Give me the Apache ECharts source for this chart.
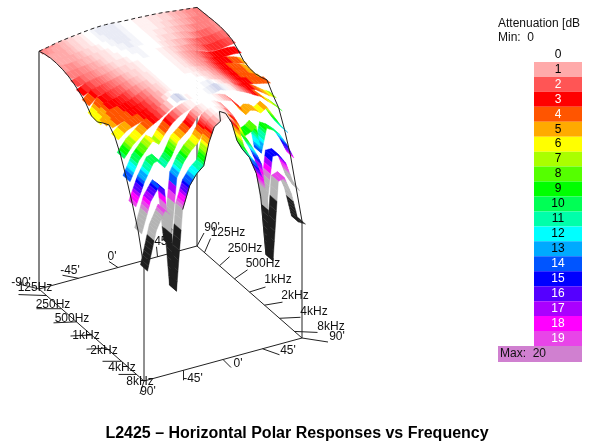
<!DOCTYPE html>
<html><head><meta charset="utf-8">
<style>html,body{margin:0;padding:0;background:#fff}#c{width:596px;height:444px}</style>
<script src="https://cdn.jsdelivr.net/npm/echarts@6/dist/echarts.min.js"></script>
</head><body><div id="c"></div>
<script>
// ---- DATA ----
const angles = [-90,-80,-70,-64,-57,-50,-42,-34,-26,-20,-14,-7,0,7,14,20,26,34,42,47,53,59,66,74,82,90];
const row00 = [1.8,1.4,.9,.7,.5,.3,.1,-.1,-.25,-.3,-.3,-.25,-.1,0,.1,.1,.2,.3,.4,.5,.6,.8,1,1.2,1.4,1.6];
const row01 = [1.3,1.1,.9,.7,.5,.3,.1,-.1,-.3,-.3,-.3,-.25,-.1,0,.1,.1,.2,.3,.4,.5,.6,.8,1,1.3,1.4,1.5];
const row02 = [1,1,.9,.7,.5,.3,.1,-.1,-.25,-.3,-.3,-.25,-.1,0,.1,.1,.2,.3,.5,.6,.7,.9,1.1,1.4,1.5,1.4];
const row03 = [1,1.1,1,.8,.6,.4,.2,0,-.2,-.25,-.3,-.25,-.1,0,.1,.2,.3,.4,.6,.7,.9,1.1,1.4,1.6,1.5,1.3];
const row04 = [1.2,1.3,1.1,.9,.7,.5,.3,.1,-.1,-.2,-.25,-.2,-.1,0,.1,.2,.4,.5,.7,.9,1.1,1.5,1.8,1.9,1.6,1.3];
const row05 = [1.6,1.5,1.3,1.1,.9,.6,.3,.2,0,-.1,-.2,-.1,0,0,.1,.3,.5,.7,.9,1.2,1.5,1.9,2.1,2.2,1.9,1.5];
const row06 = [2.3,1.8,1.5,1.3,1,.8,.4,.3,.1,0,-.1,-.1,0,.1,.2,.4,.6,1,1.2,1.4,1.7,2.2,2.5,2.5,2.2,2];
const row07 = [3.3,2.2,1.8,1.6,1.3,1,.6,.4,.2,.1,0,0,0,.1,.2,.4,.7,1,1.4,1.8,2.2,2.7,3,3,3,3.2];
const row08 = [4.5,2.6,2.2,1.9,1.6,1.2,.8,.5,.2,.1,0,0,0,.1,.2,.4,.7,1,1.4,1.8,2.4,2.9,3.2,3.5,4,4.7];
const row09 = [6.5,3.2,2.6,2.3,1.9,1.4,.9,.6,.3,.1,0,0,0,.1,.2,.4,.7,1,1.5,1.9,2.5,3,3.4,3.8,4.4,5.3];
const row10 = [6.7,3.6,3.1,2.8,2.3,1.7,1.1,.7,.3,.1,0,0,0,.1,.2,.3,.6,.9,1.4,1.9,2.5,3,3.4,3.9,4.5,5.4];
const row11 = [5.7,3.9,3.5,3.2,2.8,2.2,1.4,.8,.3,.1,0,0,0,0,.1,.2,.5,.8,1.3,1.8,2.4,3,3.4,3.8,4.3,5];
const row12 = [4.9,4.2,3.7,3.4,3,2.5,1.6,.9,.3,.1,0,0,0,0,0,.1,.4,.7,1.2,1.7,2.3,2.9,3.2,3.6,4,4.4];
const row13 = [6.6,4.8,4,3.6,3.2,2.6,1.7,.8,-.1,0,.1,0,0,0,-.2,-.3,0,.5,1,1.8,2.6,3,3.3,4.5,5.8,6.8];
const row14 = [10,7.2,5.4,4.3,3.4,2.6,1.5,.3,-.8,-.5,.2,0,0,0,-.4,-.7,-.2,.2,1,1.5,2.2,3,3.8,5.5,7,8.8];
const row15 = [14.5,9.9,7.3,5.9,7.1,4.8,2.8,1.5,.7,.3,.05,0,0,0,.3,.7,1.2,3,5.6,4.8,5.2,6.2,5.2,8,10.8,13];
const row16 = [19.5,13.8,9.8,9.4,11.7,9.6,6,4.6,3,1.2,.4,.1,0,.3,1.2,3.2,6,9.2,8.5,7.6,14.6,8.7,9.6,11.2,14.2,18];
const row17 = [25,17.6,14.2,15.5,30,13.4,9.9,7.6,6,3.9,1.2,.3,0,.5,1.6,4,7,10,13.3,16,26,14.5,14.5,17,22,25];
const row18 = [33,23.5,19,20.5,40,20,14.5,12,10.5,5,1.5,.5,0,.9,3.7,8.5,11,13.5,18,24,39,19.5,19,23.5,31,32];
const rows = [row00,row01,row02,row03,row04,row05,row06,row07,row08,row09,row10,row11,row12,row13,row14,row15,row16,row17,row18];
const freqLabels = ['125Hz','250Hz','500Hz','1kHz','2kHz','4kHz','8kHz'];
const angleLabels = ["-90'","-45'","0'","45'","90'"];
const legendValues = ['0','1','2','3','4','5','6','7','8','9','10','11','12','13','14','15','16','17','18','19'];
const legendColors = ['#FFFFFF','#FFAAAA','#FF5555','#FF0000','#FF5500','#FFAA00','#FFFF00','#AAFF00','#55FF00','#00FF00','#00FF55','#00FFAA','#00FFFF','#00AAFF','#0055FF','#0000FF','#5500FF','#AA00FF','#FF00FF','#E845E8'];
const legendWhite = ['2','3','4','14','15','16','17','18','19'];

// ---- VIEW (axonometric box of the plot) ----
const O=[39,44], A=[158,-43], F=[105,92], DZ=4, FLOOR=61.25, D=0.034;
const proj=(a,f,z)=>[O[0]+A[0]*a+F[0]*f, O[1]+A[1]*a+F[1]*f+DZ*z];
const FONT='12px "Liberation Sans", Arial, sans-serif';
const aOf=i=>(angles[i]+90)/180, fOf=j=>j/(rows.length-1);

function hex(c){return [parseInt(c.slice(1,3),16),parseInt(c.slice(3,5),16),parseInt(c.slice(5,7),16)];}
function mix(c1,c2,t){const p=hex(c1),q=hex(c2);return 'rgb('+p.map((v,i)=>Math.round(v+(q[i]-v)*t)).join(',')+')';}
function color(z){
  if(z<0) return mix('#FFFFFF','#BCC2E2',Math.min(1,Math.round(-z*6.6)/6));
  if(z<3){const q=Math.round(z*6)/6, k=Math.floor(q); return mix(legendColors[k],legendColors[k+1],q-k);}
  if(z<19.5) return legendColors[Math.round(z)];
  if(z<20.3) return '#D080D0';
  if(z<25.5) return '#B4B4B4';
  return '#1E1E1E';
}

// ---- FRAME: floor edges, poles, ticks ----
const frameLines=[
 [0,0,FLOOR,1,0,FLOOR],[1,0,FLOOR,1,1,FLOOR],[0,1,FLOOR,1,1,FLOOR],[0,0,FLOOR,0,1,FLOOR],
 [0,0,FLOOR,0,0,row00[0]],[1,0,FLOOR,1,0,row00[25]],[0,1,FLOOR,0,1,row18[0]],[1,1,FLOOR,1,1,row18[25]]
];
const freqBand=i=>(i+.5)/freqLabels.length;
const labelSpecs=[]; // [text,a,f,tickdx,tickdy,textdx,textdy] offsets from the axis point; text is centred
const lf=[[-28,-1,-11.5,-7.6],[-25,0,-8.5,-3.7],[-23,1,-4.5,-2.9],[-21,1,-5.5,1],[-20,1,-2.5,3],[-19,0,.5,6],[-18,0,3.5,7.5]];
const rf=[[6,-14,23.5,-19.6],[10,-9,25.5,-16.7],[13,-9,28.5,-14.8],[16,-5,28.5,-12],[18,-3,30.5,-9],[21,-1,34.5,-6.3],[23,1,36.5,-4.5]];
freqLabels.forEach((t,i)=>{
  labelSpecs.push([t,0,freqBand(i),lf[i][0],lf[i][1],lf[i][2],lf[i][3]]);
  labelSpecs.push([t,1,freqBand(i),rf[i][0],rf[i][1],rf[i][2],rf[i][3]]);
});
const bk=[[-20,-5,-18,-6],[-16,-3,-8.5,-8],[-9,-6,-6,-10.5],[-1,-10,4.5,-15],[7,-13,15,-18]];
const fr=[[-4,13,4,11],[0,10,9.5,8],[8,8,15,4],[17,6,25.5,2],[26,4,35,-1]];
angleLabels.forEach((t,i)=>{
  labelSpecs.push([t,i/4,0,bk[i][0],bk[i][1],bk[i][2],bk[i][3]]);
  labelSpecs.push([i===0?"90'":t,i/4,1,fr[i][0],fr[i][1],fr[i][2],fr[i][3]]);
});

// ---- SURFACE ribbons, back to front ----
const surfaceData=[];
rows.forEach((r,j)=>{ for(let c=r.length-2;c>=0;c--) surfaceData.push([j,c]); });

function renderSurface(params,api){
  const j=api.value(0), c=api.value(1), r=rows[j], f=fOf(j);
  const a1=aOf(c), a2=aOf(c+1), z1=r[c], z2=r[c+1];
  const n=Math.max(2,Math.min(8,Math.ceil(Math.abs(z2-z1)*1.5)));
  const f0=Math.max(0,f-D), f1=f+D, children=[];
  for(let k=n-1;k>=0;k--){
    const t1=k/n,t2=(k+1)/n;
    const ax=a1+(a2-a1)*t1, bx=a1+(a2-a1)*t2, zx=z1+(z2-z1)*t1, zy=z1+(z2-z1)*t2;
    const col=color((zx+zy)/2);
    children.push({type:'polygon',shape:{points:[proj(ax,f0,zx),proj(bx,f0,zy),proj(bx,f1,zy),proj(ax,f1,zx)].map(p=>api.coord(p))},
      style:{fill:col,stroke:col,lineWidth:.4},silent:true});
  }
  return {type:'group',children};
}
function edgePoints(kind){
  if(kind===0) return rows.map((r,j)=>proj(0,fOf(j),r[0]));
  if(kind===1) return rows.map((r,j)=>proj(1,fOf(j),r[25]));
  if(kind===2) return row00.map((z,i)=>proj(aOf(i),0,z));
  const pts=[];
  row18.forEach((z,i)=>{const a=aOf(i); if(a>=.2&&a<=.8) pts.push(proj(a,1+(a<.5?D:-D),z));});
  return pts;
}
const chart=echarts.init(document.getElementById('c'),null,{renderer:'canvas'});
chart.setOption({
  animation:false,backgroundColor:'#fff',
  title:{text:'L2425 – Horizontal Polar Responses vs Frequency',left:292,top:421,textAlign:'center',
    textStyle:{fontFamily:'"Liberation Sans", Arial, sans-serif',fontSize:16,fontWeight:'bold',color:'#000'}},
  grid:[{left:0,top:0,width:596,height:444,show:false},{left:534,top:47,width:48,height:299,show:false}],
  xAxis:[{type:'value',min:0,max:596,show:false,gridIndex:0},{type:'value',min:0,max:1,show:false,gridIndex:1}],
  yAxis:[{type:'value',min:0,max:444,inverse:true,show:false,gridIndex:0},
         {type:'category',data:legendValues,inverse:true,show:false,gridIndex:1}],
  series:[
   {type:'custom',coordinateSystem:'cartesian2d',clip:false,silent:true,z:1,data:frameLines,
    renderItem:(p,api)=>{const d=frameLines[p.dataIndex];
      const s=api.coord(proj(d[0],d[1],d[2])),e=api.coord(proj(d[3],d[4],d[5]));
      return {type:'line',shape:{x1:s[0],y1:s[1],x2:e[0],y2:e[1]},style:{stroke:p.dataIndex===4?'#666':'#222',lineWidth:p.dataIndex===4?1.6:1}};}},
   {type:'custom',coordinateSystem:'cartesian2d',clip:false,silent:true,z:2,data:labelSpecs.map((d,i)=>[i,0]),
    renderItem:(p,api)=>{const d=labelSpecs[p.dataIndex],s=api.coord(proj(d[1],d[2],FLOOR));
      return {type:'group',children:[
        {type:'line',shape:{x1:s[0],y1:s[1],x2:s[0]+d[3],y2:s[1]+d[4]},style:{stroke:'#222',lineWidth:1}},
        {type:'text',style:{text:d[0],x:s[0]+d[5],y:s[1]+d[6],font:FONT,fill:'#111',align:'center',verticalAlign:'middle'}}]};}},
   {type:'custom',coordinateSystem:'cartesian2d',clip:false,silent:true,z:3,progressive:0,data:surfaceData,renderItem:renderSurface},
   {type:'custom',coordinateSystem:'cartesian2d',clip:false,silent:true,z:4,data:[[0,0],[1,0],[2,0],[3,0]],
    renderItem:(p,api)=>{const k=p.dataIndex;
      return {type:'polyline',shape:{points:edgePoints(k).map(q=>api.coord(q))},
        style:{fill:'none',stroke:'#222',lineWidth:1,lineDash:k===2?[4,3]:null}};}},
   {type:'bar',xAxisIndex:1,yAxisIndex:1,barWidth:'100%',silent:true,z:2,
    data:legendValues.map((v,i)=>({value:1,itemStyle:{color:legendColors[i]},
      label:{show:true,position:'inside',formatter:v,fontFamily:'"Liberation Sans", Arial, sans-serif',fontSize:12,color:legendWhite.includes(v)?'#fff':'#000'}}))},
   {type:'custom',coordinateSystem:'cartesian2d',clip:false,silent:true,z:5,data:[[0,0]],
    renderItem:(p,api)=>{const a=api.coord([498,346]),b=api.coord([582,362]);
      return {type:'group',children:[
       {type:'rect',shape:{x:a[0],y:a[1],width:b[0]-a[0],height:b[1]-a[1]},style:{fill:'#D080D0'}},
       {type:'text',style:{text:'Max:  20',x:a[0]+2,y:a[1]+2,font:FONT,fill:'#111',verticalAlign:'top'}},
       {type:'text',style:{text:'Attenuation [dB',x:a[0],y:a[1]-328,font:FONT,fill:'#111',verticalAlign:'top'}},
       {type:'text',style:{text:'Min:  0',x:a[0],y:a[1]-314,font:FONT,fill:'#111',verticalAlign:'top'}}]};}}
  ]
});
</script></body></html>
